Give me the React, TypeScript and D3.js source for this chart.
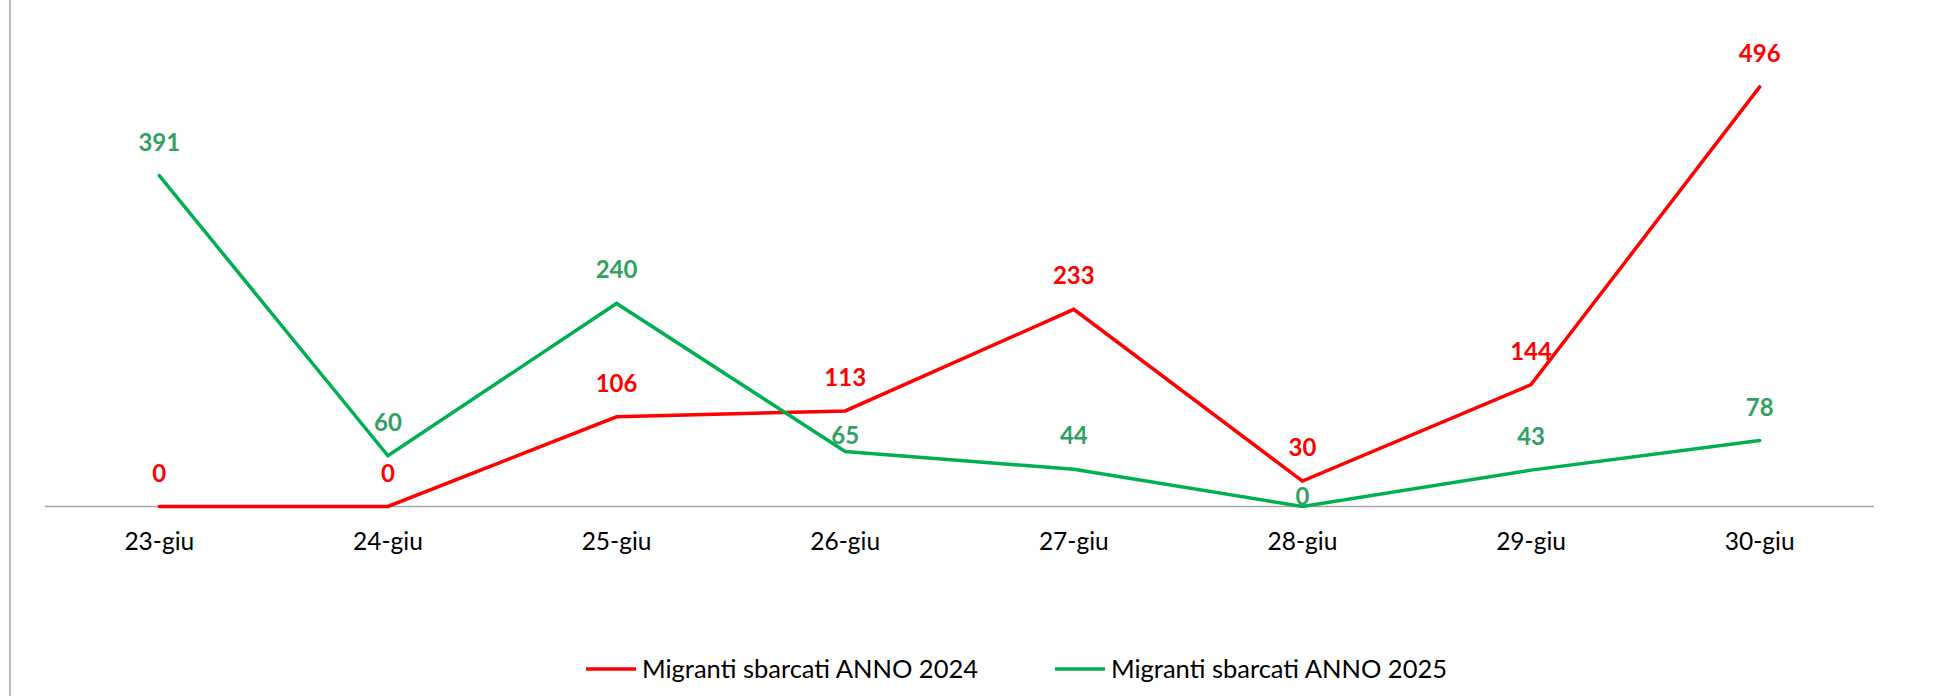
import * as d3 from 'd3';
import React, { useEffect, useRef } from 'react';

const days = ['23-giu', '24-giu', '25-giu', '26-giu', '27-giu', '28-giu', '29-giu', '30-giu'];
const sbarcati2024 = [0, 0, 106, 113, 233, 30, 144, 496];
const sbarcati2025 = [391, 60, 240, 65, 44, 0, 43, 78];
const seriesNames = ['Migranti sbarcati ANNO 2024', 'Migranti sbarcati ANNO 2025'];

// spostamenti manuali delle etichette (come nel grafico originale)
const labelShift2025: Record<number, number> = { 3: 17, 5: 23 };

const W = 1944;
const H = 696;
const FONT = 'Lato, "Open Sans", sans-serif';

function App() {
    const ref = useRef<SVGSVGElement>(null);

    useEffect(() => {
        const svg = d3.select(ref.current);
        svg.selectAll('*').remove();

        const x = d3.scaleBand().domain(days).range([45, 1874]);
        const y = d3.scaleLinear().domain([0, 500]).range([506.5, 83.5]);
        const cx = (d: string) => (x(d) as number) + x.bandwidth() / 2;

        // bordo sinistro
        svg.append('line')
            .attr('x1', 10).attr('x2', 10)
            .attr('y1', 0).attr('y2', H)
            .attr('stroke', '#a6a6a6').attr('stroke-width', 1.5);

        // asse x
        svg.append('line')
            .attr('x1', 45).attr('x2', 1874)
            .attr('y1', y(0)).attr('y2', y(0))
            .attr('stroke', '#a6a6a6').attr('stroke-width', 1.5);

        svg.append('g').selectAll('text')
            .data(days)
            .enter()
            .append('text')
            .attr('x', d => cx(d))
            .attr('y', 550)
            .attr('text-anchor', 'middle')
            .style('font-family', FONT)
            .style('font-size', '24.5px')
            .style('fill', '#000')
            .text(d => d);

        const series = [
            { values: sbarcati2024, line: '#ff0000', label: '#ff0000', shift: {} as Record<number, number> },
            { values: sbarcati2025, line: '#00b050', label: '#339f63', shift: labelShift2025 },
        ];

        const line = d3.line<number>()
            .x((d, i) => cx(days[i]))
            .y(d => y(d));

        series.forEach(s => {
            svg.append('path')
                .attr('d', line(s.values))
                .attr('fill', 'none')
                .attr('stroke', s.line)
                .attr('stroke-width', 3.5)
                .attr('stroke-linecap', 'round')
                .attr('stroke-linejoin', 'miter');
        });

        series.forEach(s => {
            svg.append('g').selectAll('text')
                .data(s.values)
                .enter()
                .append('text')
                .attr('x', (d, i) => cx(days[i]))
                .attr('y', (d, i) => y(d) - 25 + (s.shift[i] || 0))
                .attr('text-anchor', 'middle')
                .style('font-family', FONT)
                .style('font-weight', 'bold')
                .style('font-size', '24px')
                .style('fill', s.label)
                .text(d => d);
        });

        // legenda
        const legend = [
            { name: seriesNames[0], color: '#ff0000', x0: 586 },
            { name: seriesNames[1], color: '#00b050', x0: 1055 },
        ];
        legend.forEach(l => {
            svg.append('line')
                .attr('x1', l.x0).attr('x2', l.x0 + 50)
                .attr('y1', 669).attr('y2', 669)
                .attr('stroke', l.color)
                .attr('stroke-width', 3.5);
            svg.append('text')
                .attr('x', l.x0 + 56)
                .attr('y', 678)
                .style('font-family', FONT)
                .style('font-size', '25.5px')
                .style('fill', '#000')
                .text(l.name);
        });
    }, []);

    return (
        <svg ref={ref} width={W} height={H}
            style={{ position: 'absolute', left: 0, top: 0, background: '#fff' }}></svg>
    );
}

export default App;
